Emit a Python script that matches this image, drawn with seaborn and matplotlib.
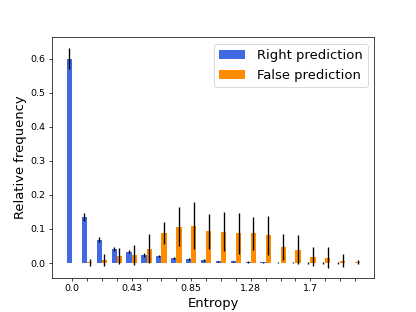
import matplotlib
matplotlib.use("Agg")
import matplotlib.pyplot as plt
import pandas as pd
import seaborn as sns

# Data (20 entropy bins)
bins = list(range(20))
tick_labels = ["0.0", "", "", "", "0.43", "", "", "", "0.85", "", "", "",
               "1.28", "", "", "", "1.7", "", "", ""]
right_freq = [0.600, 0.135, 0.068, 0.042, 0.033, 0.024, 0.021, 0.015, 0.011, 0.009,
              0.005, 0.005, 0.003, 0.002, 0.001, 0.001, 0.0005, 0.0005, 0.0005, 0.0003]
right_err = [0.031, 0.013, 0.007, 0.006, 0.005, 0.006, 0.004, 0.003, 0.003, 0.003,
             0.002, 0.002, 0.002, 0.001, 0.001, 0.002, 0.002, 0.002, 0.002, 0.001]
false_freq = [0.0, 0.002, 0.009, 0.021, 0.024, 0.042, 0.088, 0.106, 0.110, 0.093,
              0.092, 0.087, 0.087, 0.081, 0.048, 0.039, 0.019, 0.016, 0.007, 0.003]
false_err = [0.0, 0.010, 0.017, 0.024, 0.029, 0.043, 0.031, 0.057, 0.069, 0.052,
             0.058, 0.060, 0.048, 0.058, 0.038, 0.042, 0.029, 0.030, 0.019, 0.007]

df = pd.DataFrame({
    "bin": bins * 2,
    "freq": right_freq + false_freq,
    "prediction": ["Right prediction"] * 20 + ["False prediction"] * 20,
})

fig, ax = plt.subplots(figsize=(6.4, 4.8), dpi=65)

sns.barplot(
    data=df,
    x="bin",
    y="freq",
    hue="prediction",
    palette=["royalblue", "darkorange"],
    saturation=1,
    width=0.7,
    errorbar=None,
    ax=ax,
)

# error bars on top of the seaborn bars
for container, errs in zip(ax.containers, [right_err, false_err]):
    xs = [b.get_x() + b.get_width() / 2 for b in container]
    hs = [b.get_height() for b in container]
    ax.errorbar(xs, hs, yerr=errs, fmt="none", ecolor="black", elinewidth=1.5)

ax.set_xticks(range(len(bins)))
ax.set_xticklabels(tick_labels)
ax.set_xlim(-1.35, 20.3)
ax.set_ylim(-0.043, 0.662)
ax.tick_params(labelsize=10.5)
ax.set_xlabel("Entropy", fontsize=14.5)
ax.set_ylabel("Relative frequency", fontsize=14.5)

sns.move_legend(ax, "upper right", title=None, fontsize=14.5,
                handlelength=2.0, handletextpad=0.9)

plt.savefig("out.png", dpi=65)
